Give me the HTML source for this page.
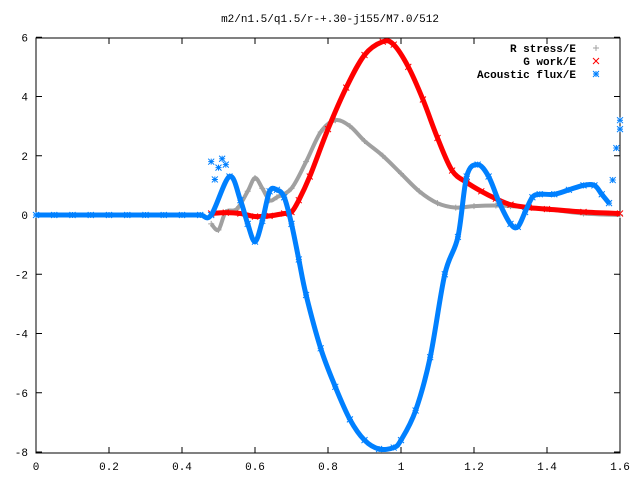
<!DOCTYPE html>
<html><head><meta charset="utf-8"><style>
body{margin:0;background:#fff}
svg{display:block}
text{font-family:"Liberation Mono",monospace;font-size:11px;fill:#000}
</style></head><body>
<svg id="chart" width="640" height="480">
<rect x="36" y="38" width="584" height="415" fill="none" stroke="#000"/>
<text x="330" y="22" text-anchor="middle">m2/n1.5/q1.5/r-+.30-j155/M7.0/512</text>
<g id="axes"></g>
<g id="series"></g>
<g>
<text x="576" y="52" text-anchor="end" font-weight="bold">R stress/E</text>
<text x="576" y="65" text-anchor="end" font-weight="bold">G work/E</text>
<text x="576" y="78" text-anchor="end" font-weight="bold">Acoustic flux/E</text>
<g id="legmarks"></g>
</g>
</svg>
<script>
const xTicks=[0,0.2,0.4,0.6,0.8,1,1.2,1.4,1.6];
const xTickLabels=["0","0.2","0.4","0.6","0.8","1","1.2","1.4","1.6"];
const yTicks=[-8,-6,-4,-2,0,2,4,6];
const yTickLabels=["-8","-6","-4","-2","0","2","4","6"];
const grayX=[0.48,0.5,0.52,0.55,0.58,0.6,0.62,0.64,0.66,0.7,0.74,0.78,0.82,0.86,0.9,0.95,1.0,1.05,1.1,1.15,1.2,1.26,1.3,1.4,1.5,1.6];
const grayY=[-0.3,-0.5,0.1,0.2,0.8,1.25,0.9,0.5,0.6,0.9,1.8,2.8,3.2,3.0,2.5,2.0,1.4,0.8,0.4,0.25,0.3,0.32,0.3,0.2,0.05,0.0];
const redX=[0.48,0.52,0.56,0.6,0.64,0.68,0.7,0.72,0.75,0.8,0.85,0.9,0.95,0.98,1.02,1.06,1.1,1.14,1.18,1.22,1.26,1.3,1.35,1.4,1.5,1.6];
const redY=[0.05,0.08,0.05,-0.05,-0.03,0.05,0.1,0.5,1.3,2.9,4.3,5.4,5.85,5.75,5.0,3.9,2.6,1.5,1.1,0.8,0.55,0.35,0.25,0.2,0.1,0.05];
const blueX=[0,0.05,0.1,0.15,0.2,0.25,0.3,0.35,0.4,0.45,0.48,0.53,0.56,0.58,0.6,0.62,0.64,0.66,0.68,0.7,0.72,0.74,0.78,0.82,0.86,0.9,0.94,0.98,1.0,1.04,1.08,1.12,1.156,1.18,1.21,1.24,1.27,1.3,1.32,1.34,1.36,1.38,1.42,1.46,1.5,1.53,1.55,1.57];
const blueY=[0,0,0,0,0,0,0,0,0,0,0,1.3,0.5,-0.3,-0.9,-0.2,0.8,0.85,0.6,-0.3,-1.5,-2.7,-4.5,-5.8,-6.9,-7.6,-7.9,-7.85,-7.6,-6.6,-4.8,-2.0,-0.74,1.3,1.7,1.3,0.4,-0.3,-0.4,0.1,0.6,0.7,0.7,0.85,1.0,1.0,0.7,0.4];
const blueExtraX=[0.48,0.49,0.5,0.51,0.52,1.58,1.59,1.6,1.6];
const blueExtraY=[1.8,1.2,1.6,1.9,1.7,1.18,2.26,3.2,2.9];
const NS="http://www.w3.org/2000/svg";
const sx=v=>36+v*365, sy=v=>215-v*29.625;
const ax=document.getElementById('axes'), se=document.getElementById('series');
function mk(tag,attrs,parent){const e=document.createElementNS(NS,tag);for(const k in attrs)e.setAttribute(k,attrs[k]);parent.appendChild(e);return e;}
xTicks.forEach((t,i)=>{const x=sx(t);
 const a=mk('path',{d:`M${x} 453v-6M${x} 38v6`,stroke:'#000'},ax);
 
 
 const l=mk('text',{x:x,y:470,'text-anchor':'middle'},ax);l.textContent=xTickLabels[i];
 
 });
yTicks.forEach((t,i)=>{const y=sy(t);
 const a=mk('path',{d:`M36 ${y}h6M620 ${y}h-6`,stroke:'#000'},ax);
 
 
 const l=mk('text',{x:28,y:y+4,'text-anchor':'end'},ax);l.textContent=yTickLabels[i];
 
 });
function marker(type,x,y,c,g){
 let d;
 if(type==='plus')d=`M${x-3} ${y}h6M${x} ${y-3}v6`;
 else if(type==='cross')d=`M${x-3} ${y-3}l6 6M${x-3} ${y+3}l6 -6`;
 else d=`M${x-3} ${y}h6M${x} ${y-3}v6M${x-3} ${y-3}l6 6M${x-3} ${y+3}l6 -6`;
 const p=mk('path',{d:d,stroke:c,'stroke-width':1,fill:'none'},g);
 
 
}
function smoothPath(P){
 let d=`M${P[0][0]} ${P[0][1]}`;
 for(let i=0;i<P.length-1;i++){
  const p0=P[Math.max(0,i-1)],p1=P[i],p2=P[i+1],p3=P[Math.min(P.length-1,i+2)];
  const c1x=p1[0]+(p2[0]-p0[0])/6,c1y=p1[1]+(p2[1]-p0[1])/6;
  const c2x=p2[0]-(p3[0]-p1[0])/6,c2y=p2[1]-(p3[1]-p1[1])/6;
  d+=`C${c1x} ${c1y} ${c2x} ${c2y} ${p2[0]} ${p2[1]}`;
 }
 return d;
}
function series(name,X,Y,c,type,w){
 const g=mk('g',{},se);
 
 
 const P=X.map((v,i)=>[sx(v),sy(Y[i])]);
 const pl=mk('path',{d:smoothPath(P),fill:'none',stroke:c,'stroke-width':w,'stroke-linejoin':'round'},g);
 
 
 X.forEach((v,i)=>marker(type,sx(v),sy(Y[i]),c,g));
 return g;
}
series('r-stress-series',grayX,grayY,'#a0a0a0','plus',4);
series('g-work-series',redX,redY,'#ff0000','cross',5);
const bg=series('acoustic-flux-series',blueX,blueY,'#0080ff','star',5);
blueExtraX.forEach((v,i)=>marker('star',sx(v),sy(blueExtraY[i]),'#0080ff',bg));
const lm=document.getElementById('legmarks');
marker('plus',596,48,'#a0a0a0',lm);
marker('cross',596,61,'#ff0000',lm);
marker('star',596,74,'#0080ff',lm);
</script>
</body></html>
